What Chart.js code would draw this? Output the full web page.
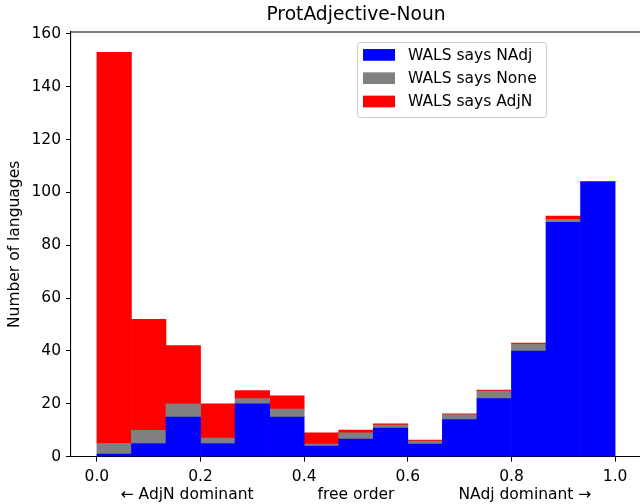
<!DOCTYPE html>
<html><head><meta charset="utf-8">
<script src="https://cdn.jsdelivr.net/npm/chart.js@4/dist/chart.umd.min.js"></script>
<style>html,body{margin:0;padding:0;overflow:hidden;background:#fff;width:640px;height:504px}</style>
</head><body>
<canvas id="c" width="644" height="504" style="display:block;width:644px;height:504px"></canvas>
<script>
// ---- data ----
const binEdges = [0, 1/15, 2/15, 3/15, 4/15, 5/15, 6/15, 7/15, 8/15, 9/15, 10/15, 11/15, 12/15, 13/15, 14/15, 1];
const nadjCounts = [1, 5, 15, 5, 20, 15, 4, 6.7, 10.8, 4.8, 14, 22, 40, 88.7, 103.8];
const noneCounts = [4, 5, 5, 2, 2, 3, 0.8, 2.3, 1.2, 1.1, 1.9, 2.8, 2.6, 1.1, 0];
const adjnCounts = [148, 42, 22, 13, 3, 5, 4.2, 1.1, 0.4, 0.4, 0.3, 0.4, 0.4, 1.2, 0.4];
const seriesLabels = ['WALS says NAdj', 'WALS says None', 'WALS says AdjN'];
const seriesColors = ['#0000ff', '#808080', '#ff0000'];
const xTicks = [0, 0.2, 0.4, 0.6, 0.8, 1.0];
const yTicks = [0, 20, 40, 60, 80, 100, 120, 140, 160];
const chartTitle = 'ProtAdjective-Noun';
const yTitle = 'Number of languages';
const xTitleParts = ['← AdjN dominant', 'free order', 'NAdj dominant →'];

// ---- build ----
const centers = binEdges.slice(0, -1).map((e, i) => (e + binEdges[i + 1]) / 2);
const toPts = arr => arr.map((v, i) => ({x: centers[i], y: v}));
const seriesData = [nadjCounts, noneCounts, adjnCounts];
const FONT = "'DejaVu Sans', 'Liberation Sans', sans-serif";
const FS = 15.5;
Chart.defaults.font.family = FONT;
Chart.defaults.font.size = FS;
Chart.defaults.color = '#000';

const frame = {
  id: 'frame',
  afterDraw(chart) {
    const ctx = chart.ctx, a = chart.chartArea;
    ctx.save();
    ctx.strokeStyle = '#000'; ctx.lineWidth = 1.1;
    ctx.beginPath();
    ctx.moveTo(a.left, a.top); ctx.lineTo(a.right, a.top); ctx.lineTo(a.right, a.bottom);
    ctx.stroke();
    ctx.restore();
  }
};
const mplLegend = {
  id: 'mplLegend',
  afterDraw(chart) {
    const ctx = chart.ctx, a = chart.chartArea;
    const x0 = a.left + 286, y0 = a.top + 10, w = 189, h = 75;
    ctx.save();
    ctx.beginPath();
    ctx.roundRect(x0 + 0.5, y0 + 0.5, w, h, 3);
    ctx.fillStyle = 'rgba(255,255,255,0.8)';
    ctx.fill();
    ctx.strokeStyle = '#cccccc'; ctx.lineWidth = 1;
    ctx.stroke();
    ctx.font = FS + 'px ' + FONT;
    ctx.textBaseline = 'middle';
    ctx.textAlign = 'left';
    chart.data.datasets.forEach((ds, i) => {
      const cy = y0 + 13 + i * 23.3;
      ctx.fillStyle = ds.backgroundColor;
      ctx.fillRect(x0 + 6, cy - 6, 32, 11.7);
      ctx.fillStyle = '#000';
      ctx.fillText(ds.label, x0 + 51, cy + 0.5);
    });
    ctx.restore();
  }
};

new Chart(document.getElementById('c'), {
  type: 'bar',
  data: {
    datasets: seriesData.map((d, i) => ({
      label: seriesLabels[i],
      data: toPts(d),
      backgroundColor: seriesColors[i],
      borderWidth: 0,
      barPercentage: 1,
      categoryPercentage: 1
    }))
  },
  options: {
    responsive: false,
    animation: false,
    devicePixelRatio: 1,
    layout: {padding: {left: 0, right: 3, top: 0, bottom: 0}},
    plugins: {
      legend: {display: false},
      tooltip: {enabled: false},
      title: {
        display: true, text: chartTitle, fullSize: false,
        font: {size: 18.7, weight: 'normal'}, color: '#000',
        padding: {top: 4, bottom: 5.6}
      }
    },
    scales: {
      x: {
        type: 'linear', stacked: true, min: -0.05, max: 1.05, offset: false,
        afterBuildTicks: s => { s.ticks = xTicks.map(v => ({value: v})); },
        afterFit: s => { s.height = 47.3; },
        ticks: {callback: v => v.toFixed(1), padding: 6, maxRotation: 0, autoSkip: false, color: '#000'},
        grid: {drawOnChartArea: false, offset: false, tickLength: 5, color: '#000', tickWidth: 1},
        border: {display: true, color: '#000', width: 1.1},
        title: {display: true, text: xTitleParts[0] + ' '.repeat(13) + xTitleParts[1] + ' '.repeat(13) + xTitleParts[2], padding: {top: 0, bottom: 0}, color: '#000'}
      },
      y: {
        type: 'linear', stacked: true, min: 0, max: 160.65,
        afterBuildTicks: s => { s.ticks = yTicks.map(v => ({value: v})); },
        afterFit: s => { s.width = 71; },
        ticks: {padding: 5, color: '#000', autoSkip: false},
        grid: {drawOnChartArea: false, tickLength: 5, color: '#000', tickWidth: 1},
        border: {display: true, color: '#000', width: 1.1},
        title: {display: true, text: yTitle, padding: {top: 5.7, bottom: 0}, color: '#000'}
      }
    }
  },
  plugins: [frame, mplLegend]
});
</script>
</body></html>
